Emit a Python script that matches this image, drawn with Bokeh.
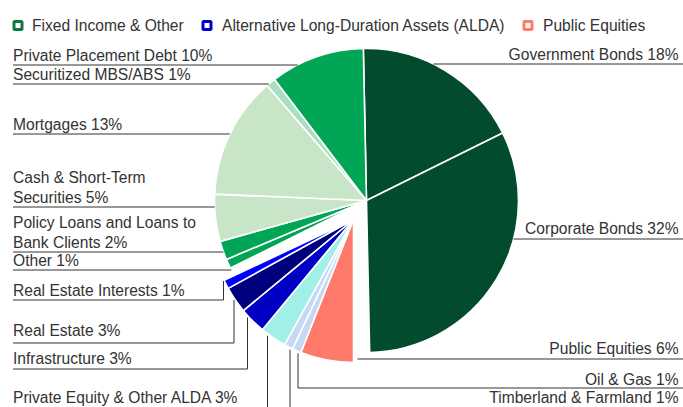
import math
from bokeh.plotting import figure
from bokeh.models import Range1d, ColumnDataSource
from bokeh.embed import file_html
from bokeh.resources import INLINE
from bokeh.core.properties import value

# ---------------- data ----------------
categories = ["Government Bonds", "Corporate Bonds", "Public Equities", "Oil & Gas",
              "Timberland & Farmland", "Private Equity & Other ALDA", "Infrastructure",
              "Real Estate", "Real Estate Interests", "Other",
              "Policy Loans and Loans to Bank Clients", "Cash & Short-Term Securities",
              "Mortgages", "Securitized MBS/ABS", "Private Placement Debt"]
values = [18, 32, 6, 1, 1, 3, 3, 3, 1, 1, 2, 5, 13, 1, 10]
groups = ["Fixed Income & Other", "Fixed Income & Other", "Public Equities",
          "ALDA", "ALDA", "ALDA", "ALDA", "ALDA", "ALDA",
          "Fixed Income & Other", "Fixed Income & Other", "Fixed Income & Other",
          "Fixed Income & Other", "Fixed Income & Other", "Fixed Income & Other"]
label_texts = ["Government Bonds 18%", "Corporate Bonds 32%", "Public Equities 6%",
               "Oil & Gas 1%", "Timberland & Farmland 1%", "Private Equity & Other ALDA 3%",
               "Infrastructure 3%", "Real Estate  3%", "Real Estate Interests 1%", "Other 1%",
               "Policy Loans and Loans to\nBank Clients 2%", "Cash & Short-Term\nSecurities 5%",
               "Mortgages 13%", "Securitized MBS/ABS 1%", "Private Placement Debt 10%"]
legend_names = ["Fixed Income & Other", "Alternative Long-Duration Assets (ALDA)", "Public Equities"]

# ---------------- styles / layout ----------------
slice_colors = {
    "Government Bonds": "#024b2d", "Corporate Bonds": "#024b2d",
    "Public Equities": "#ff7a6a", "Oil & Gas": "#c5d9f4",
    "Timberland & Farmland": "#c5d9f4", "Private Equity & Other ALDA": "#a0f0e8",
    "Infrastructure": "#0000c4", "Real Estate": "#00007f",
    "Real Estate Interests": "#0000ff", "Other": "#00a555",
    "Policy Loans and Loans to Bank Clients": "#00a555",
    "Cash & Short-Term Securities": "#c8e5c8", "Mortgages": "#c8e5c8",
    "Securitized MBS/ABS": "#a8dfc0", "Private Placement Debt": "#00a555",
}
legend_colors = ["#0b7a3f", "#0000c8", "#ff7a6a"]
legend_pos = [(17.5, 31.5), (206.5, 221.5), (527.5, 542.5)]
LEG_Y = 25.0

C_MAIN = (366.0, 200.0, 152.0)   # center x, center y (page px), radius
C_OUT = (353.0, 219.0, 143.0)    # offset group (ALDA + Public Equities)
START = -1.2                     # degrees clockwise from 12 o'clock
OUT_ROT = 1.2                    # extra rotation of the pulled-out group

FONT = value("Liberation Sans")
FSIZE = "15.6px"
TCOL = "#333333"
LCOL = "#333333"
TEXT_DY = -5.5   # correction between requested and drawn baseline

left_layout = {
    "Private Placement Debt": dict(ul=64, base=60),
    "Securitized MBS/ABS": dict(ul=83, base=79.5),
    "Mortgages": dict(ul=133, base=129),
    "Cash & Short-Term Securities": dict(ul=206, base=202.5),
    "Policy Loans and Loans to Bank Clients": dict(ul=251, base=247.5),
    "Other": dict(ul=269, base=265.5),
    "Real Estate Interests": dict(ul=299, base=295.5, vx=223),
    "Real Estate": dict(ul=342, base=335.5, vx=233.5),
    "Infrastructure": dict(ul=368, base=363.5, vx=247),
    "Private Equity & Other ALDA": dict(ul=None, base=402.5, vx=267),
}
right_layout = {
    "Government Bonds": dict(ul=63, base=59.5),
    "Corporate Bonds": dict(ul=238, base=233),
    "Public Equities": dict(ul=358, base=353),
    "Oil & Gas": dict(ul=387, base=384),
    "Timberland & Farmland": dict(ul=None, base=402.5),
}
right_vx = {"Oil & Gas": 297.5, "Timberland & Farmland": 289.5}
PUBEQ_LINE_X0 = 357
LEFT_X = 12.5
RIGHT_X = 678.0
LINE_GAP = 20


def Y(y):
    return -y


def TY(y):
    return -(y + TEXT_DY)


p = figure(width=683, height=407, x_range=Range1d(0, 683), y_range=Range1d(-407, 0),
           output_backend="svg", toolbar_location=None, min_border=0,
           x_axis_location=None, y_axis_location=None)
p.grid.visible = False
p.outline_line_color = None
p.background_fill_color = "white"
p.border_fill_color = "white"

# ---------------- wedges ----------------
wd = dict(x=[], y=[], r=[], s=[], e=[], c=[])
cum = 0
geom = {}
for cat, v, g in zip(categories, values, groups):
    ts = START + 3.6 * cum
    te = START + 3.6 * (cum + v)
    cum += v
    if g == "Fixed Income & Other":
        cx, cy, r = C_MAIN
    else:
        cx, cy, r = C_OUT
        ts += OUT_ROT
        te += OUT_ROT
    geom[cat] = (cx, cy, r)
    wd["x"].append(cx)
    wd["y"].append(Y(cy))
    wd["r"].append(r)
    wd["s"].append(math.radians(90 - te))
    wd["e"].append(math.radians(90 - ts))
    wd["c"].append(slice_colors[cat])
p.wedge(x="x", y="y", radius="r", start_angle="s", end_angle="e", direction="anticlock",
        fill_color="c", line_color="white", line_width=1.6, source=ColumnDataSource(wd))

# ---------------- labels and connectors ----------------
lx, ly, lt = [], [], []
rx, ry, rt = [], [], []
xs, ys = [], []
for cat, txt in zip(categories, label_texts):
    cx, cy, r = geom[cat]
    lines = txt.split("\n")
    if cat in left_layout:
        L = left_layout[cat]
        for k, line in enumerate(lines):
            lx.append(LEFT_X)
            ly.append(TY(L["base"] - LINE_GAP * (len(lines) - 1 - k)))
            lt.append(line)
        if "vx" in L:
            vx = L["vx"]
            top = cy + math.sqrt(r * r - (vx - cx) ** 2) + 2
            if L["ul"] is not None:
                u = L["ul"] + 0.5
                xs.append([LEFT_X, vx, vx])
                ys.append([Y(u), Y(u), Y(top)])
            else:
                xs.append([vx, vx])
                ys.append([Y(410), Y(top)])
        else:
            u = L["ul"] + 0.5
            xe = cx - math.sqrt(r * r - (u - cy) ** 2)
            xs.append([LEFT_X, xe])
            ys.append([Y(u), Y(u)])
    else:
        R = right_layout[cat]
        rx.append(RIGHT_X)
        ry.append(TY(R["base"]))
        rt.append(txt)
        if cat in right_vx:
            vx = right_vx[cat]
            top = cy + math.sqrt(r * r - (vx - cx) ** 2) + 2
            if R["ul"] is not None:
                u = R["ul"] + 0.5
                xs.append([vx, vx, 690])
                ys.append([Y(top), Y(u), Y(u)])
            else:
                xs.append([vx, vx])
                ys.append([Y(top), Y(410)])
        else:
            u = R["ul"] + 0.5
            if cat == "Public Equities":
                x0 = PUBEQ_LINE_X0
            else:
                x0 = cx + math.sqrt(r * r - (u - cy) ** 2)
            xs.append([x0, 690])
            ys.append([Y(u), Y(u)])

p.multi_line(xs=xs, ys=ys, line_color=LCOL, line_width=1)
p.text(x=lx, y=ly, text=lt, text_font=FONT, text_font_size=FSIZE, text_color=TCOL,
       text_align="left", text_baseline="alphabetic")
p.text(x=rx, y=ry, text=rt, text_font=FONT, text_font_size=FSIZE, text_color=TCOL,
       text_align="right", text_baseline="alphabetic")

# ---------------- legend ----------------
p.rect(x=[q[0] for q in legend_pos], y=[Y(LEG_Y)] * 3, width=8, height=8,
       fill_color="white", line_color=legend_colors, line_width=3)
p.text(x=[q[1] for q in legend_pos], y=[TY(LEG_Y + 5.5)] * 3, text=legend_names,
       text_font=FONT, text_font_size=FSIZE, text_color=TCOL,
       text_align="left", text_baseline="alphabetic")

open("out.html", "w").write(file_html(p, INLINE))
